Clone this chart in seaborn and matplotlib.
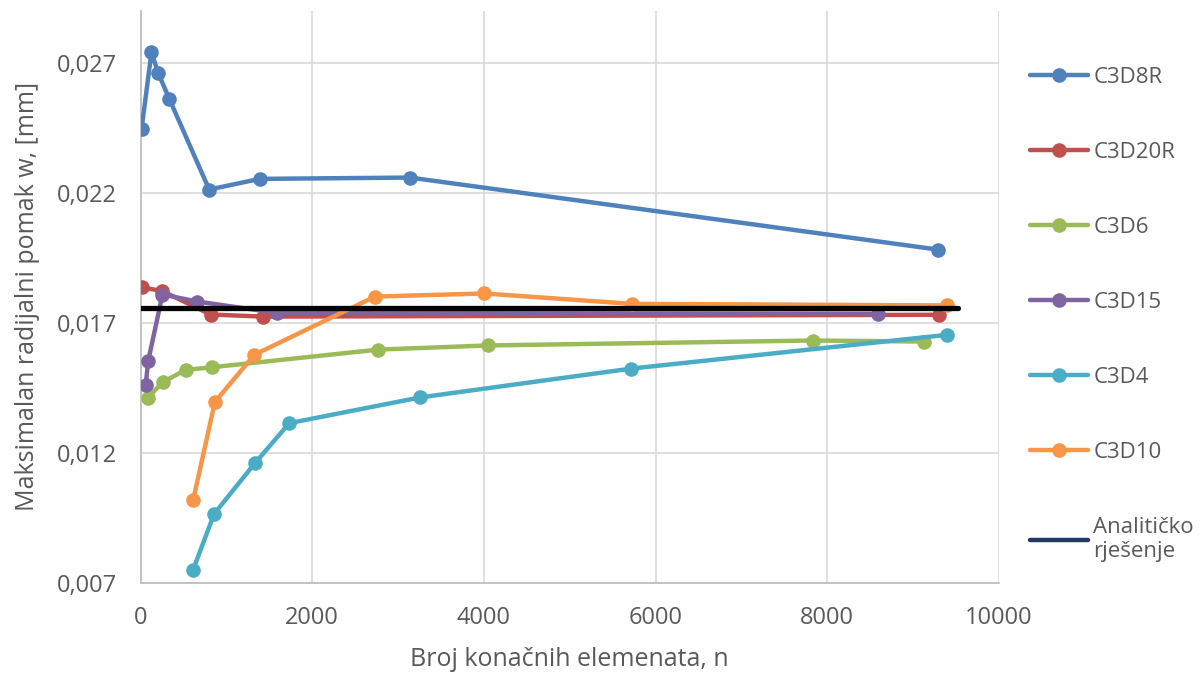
import matplotlib
matplotlib.use("Agg")
import matplotlib.pyplot as plt
from matplotlib.lines import Line2D
from matplotlib.ticker import FuncFormatter, FixedLocator
import seaborn as sns
import pandas as pd

# ---- data ----
c3d8r_n = [12, 128, 205, 334, 800, 1391, 3140, 9286]
c3d8r_w = [0.02445, 0.02742, 0.02662, 0.02563, 0.02213, 0.02254, 0.02259, 0.01982]

c3d20r_n = [12, 256, 816, 1430, 9300]
c3d20r_w = [0.01837, 0.01822, 0.01732, 0.01724, 0.01731]

c3d6_n = [85, 260, 528, 831, 2767, 4050, 7828, 9122]
c3d6_w = [0.01412, 0.01472, 0.01519, 0.01529, 0.01597, 0.01613, 0.01632, 0.01628]

c3d15_n = [60, 89, 256, 660, 1593, 8595]
c3d15_w = [0.01459, 0.01552, 0.01809, 0.01782, 0.01738, 0.01735]

c3d4_n = [613, 858, 1333, 1733, 3257, 5718, 9399]
c3d4_w = [0.0075, 0.00965, 0.0116, 0.01314, 0.01413, 0.01524, 0.01654]

c3d10_n = [613, 866, 1325, 2732, 4003, 5726, 9399]
c3d10_w = [0.01017, 0.01395, 0.01577, 0.01801, 0.01813, 0.01773, 0.01767]

analytic_n = [0, 9520]
analytic_w = [0.01758, 0.01758]

series_names = ["C3D8R", "C3D20R", "C3D6", "C3D15", "C3D4", "C3D10"]
series_n = [c3d8r_n, c3d20r_n, c3d6_n, c3d15_n, c3d4_n, c3d10_n]
series_w = [c3d8r_w, c3d20r_w, c3d6_w, c3d15_w, c3d4_w, c3d10_w]
series_colors = ["#4F81BD", "#C0504D", "#9BBB59", "#8064A2", "#4BACC6", "#F79646"]
analytic_label = "Analitičko\nrješenje"

y_ticks = [0.007, 0.012, 0.017, 0.022, 0.027]
x_ticks = [0, 2000, 4000, 6000, 8000, 10000]

# ---- style ----
sns.set_theme(style="white")
plt.rcParams["font.family"] = ["Open Sans", "DejaVu Sans"]
text_color = "#595959"

fig = plt.figure(figsize=(12.02, 6.75), dpi=100)
ax = fig.add_axes([140.5 / 1202, 1 - 582.7 / 675, (999 - 140.5) / 1202, (582.7 - 11) / 675])

handles = []
for name, n, w, col in zip(series_names, series_n, series_w, series_colors):
    df = pd.DataFrame({"n": n, "w": w})
    sns.lineplot(data=df, x="n", y="w", ax=ax, color=col, linewidth=3.2,
                 marker="o", markersize=10.5, markeredgewidth=0, sort=False,
                 estimator=None, legend=False, zorder=3)
    handles.append(Line2D([0], [0], color=col, lw=3.2, marker="o", markersize=10.5,
                          markeredgewidth=0, label=name))

df_a = pd.DataFrame({"n": analytic_n, "w": analytic_w})
sns.lineplot(data=df_a, x="n", y="w", ax=ax, color="black", linewidth=3.8,
             sort=False, estimator=None, legend=False, zorder=4)
handles.append(Line2D([0], [0], color="#1F3864", lw=3.2, label=analytic_label))

ax.set_xlim(0, 10000)
ax.set_ylim(0.007, 0.029)
ax.xaxis.set_major_locator(FixedLocator(x_ticks))
ax.yaxis.set_major_locator(FixedLocator(y_ticks))
ax.yaxis.set_major_formatter(FuncFormatter(lambda v, p: f"{v:.3f}".replace(".", ",")))
ax.xaxis.set_major_formatter(FuncFormatter(lambda v, p: f"{int(v)}"))
ax.grid(True, color="#D9D9D9", linewidth=1.2, zorder=0)
ax.set_axisbelow(True)
for s in ["top", "right"]:
    ax.spines[s].set_visible(False)
for s in ["left", "bottom"]:
    ax.spines[s].set_color("#BFBFBF")
    ax.spines[s].set_linewidth(1.3)
ax.tick_params(axis="both", length=0, labelsize=17, colors=text_color)
ax.tick_params(axis="x", pad=17)
ax.tick_params(axis="y", pad=17)
ax.set_xlabel("Broj konačnih elemenata, n", fontsize=18, color=text_color, labelpad=12)
ax.set_ylabel("Maksimalan radijalni pomak w, [mm]", fontsize=18, color=text_color, labelpad=12)

leg = fig.legend(handles=handles, loc="upper left", bbox_to_anchor=(1021 / 1202, 1 - 58 / 675),
                 frameon=False, fontsize=16, handlelength=2.6, handletextpad=0.25,
                 labelspacing=2.43, borderaxespad=0)
for t in leg.get_texts():
    t.set_color(text_color)

fig.savefig("out.png", dpi=100)
